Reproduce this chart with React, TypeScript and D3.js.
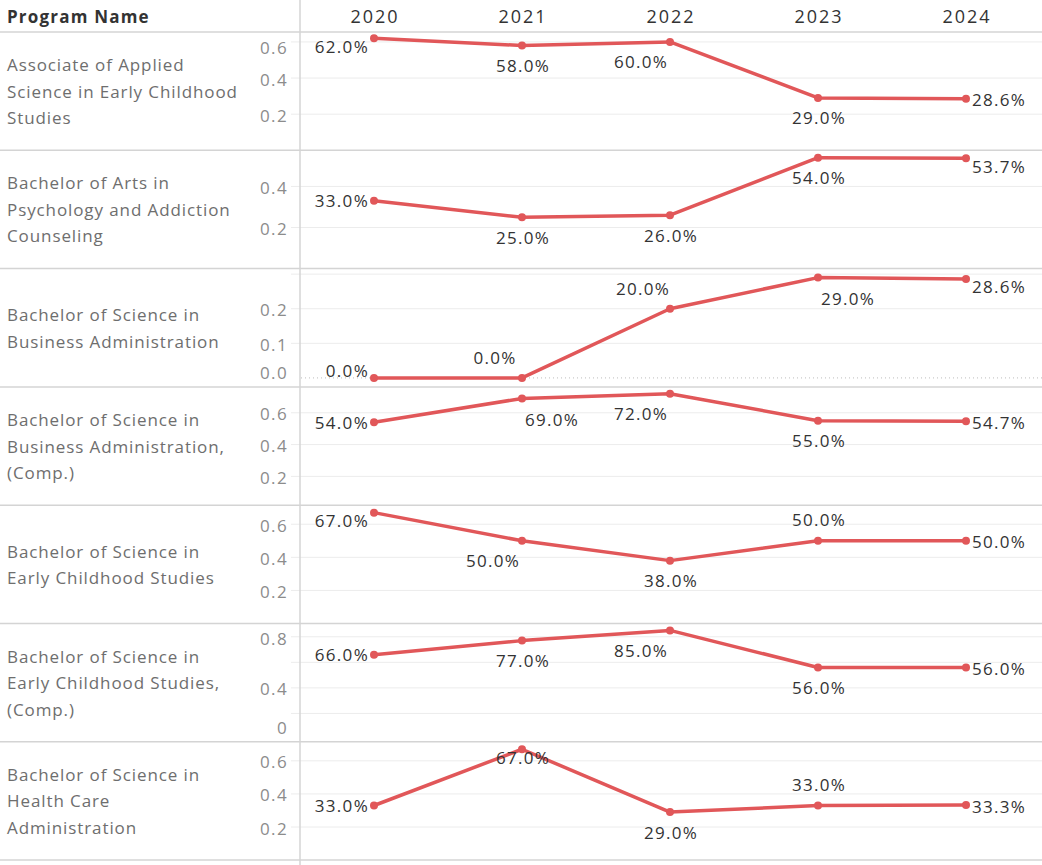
import React from "react";
import * as d3 from "d3";

// years on the x axis
const years = ["2020", "2021", "2022", "2023", "2024"];

// program names, already broken into display lines
const programs = [
  ["Associate of Applied", "Science in Early Childhood", "Studies"],
  ["Bachelor of Arts in", "Psychology and Addiction", "Counseling"],
  ["Bachelor of Science in", "Business Administration"],
  ["Bachelor of Science in", "Business Administration,", "(Comp.)"],
  ["Bachelor of Science in", "Early Childhood Studies"],
  ["Bachelor of Science in", "Early Childhood Studies,", "(Comp.)"],
  ["Bachelor of Science in", "Health Care", "Administration"],
];

// rate per program, per year
const rates = [
  [0.62, 0.58, 0.6, 0.29, 0.286],
  [0.33, 0.25, 0.26, 0.54, 0.537],
  [0.0, 0.0, 0.2, 0.29, 0.286],
  [0.54, 0.69, 0.72, 0.55, 0.547],
  [0.67, 0.5, 0.38, 0.5, 0.5],
  [0.66, 0.77, 0.85, 0.56, 0.56],
  [0.33, 0.67, 0.29, 0.33, 0.333],
];

// independent y axis of each row: [min, max]
const yDomains = [
  [0, 0.655],
  [0, 0.576],
  [-0.026, 0.316],
  [0.019, 0.7625],
  [0, 0.715],
  [-0.022, 0.904],
  [0, 0.715],
];

// labelled ticks and gridlines of each row
const tickLabels = [
  ["0.6", "0.4", "0.2"],
  ["0.4", "0.2"],
  ["0.2", "0.1", "0.0"],
  ["0.6", "0.4", "0.2"],
  ["0.6", "0.4", "0.2"],
  ["0.8", "0.4", "0"],
  ["0.6", "0.4", "0.2"],
];
const gridTicks = [
  [0.2, 0.4, 0.6],
  [0.2, 0.4],
  [0.1, 0.2, 0.3],
  [0.2, 0.4, 0.6],
  [0.2, 0.4, 0.6],
  [0.2, 0.4, 0.6, 0.8],
  [0.2, 0.4, 0.6],
];

// where each mark label sits next to its point
const labelPos = [
  ["LB", "B", "BL", "B", "R"],
  ["L", "B", "B", "B", "RB"],
  ["LA", "AL", "AL", "BR", "RB"],
  ["L", "BR", "BL", "B", "R"],
  ["LB", "BL", "B", "A", "R"],
  ["L", "B", "BL", "B", "R"],
  ["L", "C", "B", "A", "R"],
];

const W = 1042;
const H = 865;
const headerH = 32;
const rowH = 118.3;
const axisX = 300;
const red = "#e15759";
const font = "'Open Sans', sans-serif";

const offsets: Record<string, [number, number, string]> = {
  L: [-5, 0, "end"],
  LB: [-5, 8, "end"],
  LA: [-5, -7, "end"],
  R: [6, 1, "start"],
  RB: [6, 8, "start"],
  B: [1, 20, "middle"],
  A: [1, -21, "middle"],
  BL: [-29, 20, "middle"],
  BR: [30, 21, "middle"],
  AL: [-27, -20, "middle"],
  C: [1, 8, "middle"],
};

const fmt = d3.format(".1%");

const Row = ({ idx }: { idx: number }) => {
  const top = headerH + idx * rowH;
  const bottom = top + rowH;
  const x = d3.scalePoint().domain(years).range([374, 966]);
  const y = d3.scaleLinear().domain(yDomains[idx]).range([bottom, top]);
  const line = d3
    .line<number>()
    .x((_, i) => x(years[i]) as number)
    .y((d) => y(d));
  const vals = rates[idx];
  const lines = programs[idx];
  const mid = (top + bottom) / 2;
  const labelTicks = tickLabels[idx].map((t) => +t);
  const hasZero = yDomains[idx][0] < 0 && idx === 2;
  return (
    <g>
      {gridTicks[idx].map((t) => (
        <line key={t} x1={291} x2={W} y1={y(t)} y2={y(t)} stroke="#ececec" strokeWidth={1} />
      ))}
      {hasZero && (
        <line x1={301} x2={W} y1={y(0)} y2={y(0)} stroke="#bdbdbd" strokeWidth={1} strokeDasharray="1,3" />
      )}
      {tickLabels[idx].map((t, i) => {
        const cy = Math.max(top + 15, Math.min(bottom - 14, y(labelTicks[i]) + 1));
        return (
          <text key={t} x={288} y={cy} textAnchor="end" dominantBaseline="central" fill="#8c8c8c" fontSize={17} letterSpacing={1.4} fontFamily={font}>
            {t}
          </text>
        );
      })}
      {lines.map((l, i) => (
        <text key={i} x={7} y={mid + (i - (lines.length - 1) / 2) * 26.5} dominantBaseline="central" fill="#6e6e6e" fontSize={17} letterSpacing={0.9} fontFamily={font}>
          {l}
        </text>
      ))}
      <path d={line(vals) as string} fill="none" stroke={red} strokeWidth={3.5} strokeLinejoin="round" />
      {vals.map((v, i) => (
        <circle key={i} cx={x(years[i])} cy={y(v)} r={4} fill={red} />
      ))}
      {vals.map((v, i) => {
        const [dx, dy, anchor] = offsets[labelPos[idx][i]];
        return (
          <text key={"l" + i} x={(x(years[i]) as number) + dx} y={y(v) + dy} textAnchor={anchor} dominantBaseline="central" fill="#333333" fontSize={17} letterSpacing={1.3} fontFamily={font}>
            {fmt(v)}
          </text>
        );
      })}
      <line x1={0} x2={W} y1={bottom} y2={bottom} stroke="#d4d4d4" strokeWidth={1.5} />
    </g>
  );
};

export default function App() {
  const x = d3.scalePoint().domain(years).range([374, 966]);
  return (
    <svg width={W} height={H} style={{ position: "absolute", left: 0, top: 0, background: "#fff" }}>
      <rect width={W} height={H} fill="#fff" />
      <text x={7} y={16} dominantBaseline="central" fontWeight="bold" fontSize={17} letterSpacing={1.2} fill="#333" fontFamily={font}>
        Program Name
      </text>
      {years.map((yr) => (
        <text key={yr} x={(x(yr) as number) + 1} y={16} textAnchor="middle" dominantBaseline="central" fontSize={18} letterSpacing={2} fill="#333" fontFamily={font}>
          {yr}
        </text>
      ))}
      {programs.map((_, i) => (
        <Row key={i} idx={i} />
      ))}
      <line x1={0} x2={W} y1={headerH} y2={headerH} stroke="#d4d4d4" strokeWidth={1.5} />
      <line x1={axisX} x2={axisX} y1={0} y2={H} stroke="#d4d4d4" strokeWidth={1.5} />
    </svg>
  );
}
